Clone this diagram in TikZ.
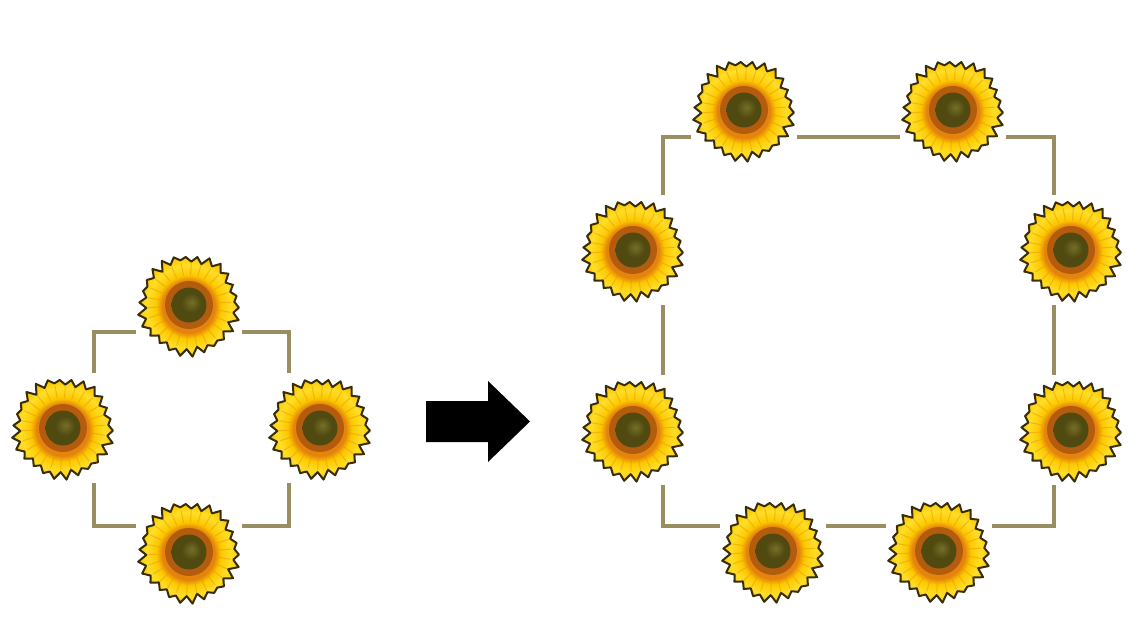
\documentclass[tikz,border=0pt]{standalone}
\definecolor{framecol}{RGB}{152,142,96}
\definecolor{petal}{RGB}{252,200,0}
\definecolor{petallight}{RGB}{255,222,40}
\definecolor{petaldeep}{RGB}{235,150,0}
\definecolor{outline}{RGB}{55,45,8}
\definecolor{ringcol}{RGB}{180,92,14}
\definecolor{ringlight}{RGB}{228,130,14}
\definecolor{disccol}{RGB}{80,74,16}
\definecolor{dischi}{RGB}{118,110,40}
\pgfdeclareradialshading{petalshade}{\pgfpoint{0bp}{0bp}}{%
  color(0bp)=(petaldeep); color(13bp)=(ringlight); color(16bp)=(petal);
  color(21bp)=(petallight); color(25bp)=(petal); color(50bp)=(petal)}
\pgfdeclareradialshading{discshade}{\pgfpoint{4bp}{4bp}}{%
  color(0bp)=(dischi); color(14bp)=(disccol); color(25bp)=(disccol); color(50bp)=(disccol)}
\tikzset{
  flowerbox/.style={fill=white, minimum width=106pt, minimum height=110pt, inner sep=0pt},
  framepath/.style={draw=framecol, line width=4pt, line join=miter},
  sunflower/.pic={
    \shadedraw[shading=petalshade, draw=outline, line width=2pt, line join=round]
      plot[samples at={0,...,51}] ({\x*6.9231+3}:{isodd(\x) ? 44+1.5*cos(7*\x*7) : 50+2*sin(5*\x*7)}) -- cycle;
    \foreach \k in {0,...,25}{
      \draw[petaldeep, line width=1pt, opacity=0.5, line cap=round] ({\k*13.846+10}:30) -- ({\k*13.846+10}:42);
    }
    \fill[ringcol] (0,0) circle (24);
    \shade[shading=discshade] (0,0) circle (17.5);
  }
}
\begin{document}
\begin{tikzpicture}[x=1pt,y=-1pt]
\useasboundingbox[fill=white] (0,0) rectangle (1148,638);
% ---- left arrangement ----
\coordinate (la) at (94,332);
\coordinate (lb) at (289,332);
\coordinate (lc) at (289,526);
\coordinate (ld) at (94,526);
\draw[framepath] (la) -- (lb) -- (lc) -- (ld) -- cycle;
\node[flowerbox] (lt) at (189,305) {};
\node[flowerbox] (ll) at (63,428) {};
\node[flowerbox] (lr) at (320,428) {};
\node[flowerbox] (lbot) at (189,552) {};
\foreach \n in {lt,ll,lr,lbot} \pic at (\n.center) {sunflower};
% ---- arrow ----
\fill[black] (426,401) -- (488,401) -- (488,381) -- (530,421.5) -- (488,462) -- (488,442) -- (426,442) -- cycle;
% ---- right arrangement ----
\coordinate (ra) at (663,137);
\coordinate (rb) at (1054,137);
\coordinate (rc) at (1054,526);
\coordinate (rd) at (663,526);
\draw[framepath] (ra) -- (rb) -- (rc) -- (rd) -- cycle;
\node[flowerbox] (rtl) at (744,110) {};
\node[flowerbox] (rtr) at (953,110) {};
\node[flowerbox] (rlu) at (633,250) {};
\node[flowerbox] (rll) at (633,430) {};
\node[flowerbox] (rru) at (1071,250) {};
\node[flowerbox] (rrl) at (1071,430) {};
\node[flowerbox] (rbl) at (773,551) {};
\node[flowerbox] (rbr) at (939,551) {};
\foreach \n in {rtl,rtr,rlu,rll,rru,rrl,rbl,rbr} \pic at (\n.center) {sunflower};
\end{tikzpicture}
\end{document}
